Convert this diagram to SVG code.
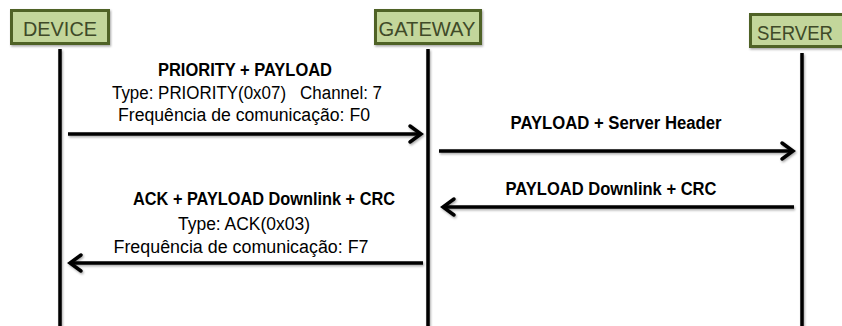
<svg xmlns="http://www.w3.org/2000/svg" width="842" height="326" viewBox="0 0 842 326">
  <style>
    .box { fill: #c3d69b; stroke: #4f6228; stroke-width: 3; }
    .boxtxt { font-family: "Liberation Sans", Arial, sans-serif; font-size: 21px; fill: #3f4a28; text-anchor: middle; }
    .life { stroke: #000; stroke-width: 3.5; fill: none; }
    .msg { stroke: #000; stroke-width: 3.5; fill: none; marker-end: url(#arr); }
    .lbl { font-family: "Liberation Sans", Arial, sans-serif; font-size: 18px; fill: #000; text-anchor: middle; }
    .lblb { font-family: "Liberation Sans", Arial, sans-serif; font-size: 18px; font-weight: bold; fill: #000; text-anchor: middle; }
  </style>
  <defs>
    <filter id="soft" x="-5%" y="-50%" width="110%" height="200%">
      <feDropShadow dx="1" dy="1.5" stdDeviation="1.2" flood-color="#000" flood-opacity="0.35"/>
    </filter>
    <marker id="arr" markerUnits="userSpaceOnUse" markerWidth="20" markerHeight="24" viewBox="-16 -12 20 24" refX="0" refY="0" orient="auto">
      <path d="M-11,-8 L0,0 L-11,8" fill="none" stroke="#000" stroke-width="3.5" stroke-linecap="round"/>
    </marker>
  </defs>

  <rect width="842" height="326" fill="#fff"/>

  <!-- participants -->
  <g id="device">
    <rect class="box" x="11.5" y="10.5" width="97" height="33" filter="url(#soft)"/>
    <text class="boxtxt" x="60" y="36" textLength="74" lengthAdjust="spacingAndGlyphs">DEVICE</text>
  </g>
  <g id="gateway">
    <rect class="box" x="375.5" y="10.5" width="105" height="33" filter="url(#soft)"/>
    <text class="boxtxt" x="427" y="36" textLength="97" lengthAdjust="spacingAndGlyphs">GATEWAY</text>
  </g>
  <g id="server">
    <rect class="box" x="750.5" y="14.5" width="100" height="32" filter="url(#soft)"/>
    <text class="boxtxt" x="795" y="40" textLength="76" lengthAdjust="spacingAndGlyphs">SERVER</text>
  </g>

  <!-- lifelines and messages -->
  <g id="connectors" filter="url(#soft)">
    <line class="life" x1="60" y1="49" x2="60" y2="326"/>
    <line class="life" x1="428" y1="49" x2="428" y2="326"/>
    <line class="life" x1="802" y1="53" x2="802" y2="326"/>

    <line class="msg" x1="68" y1="134" x2="421" y2="134"/>
    <line class="msg" x1="439" y1="151" x2="793" y2="151"/>
    <line class="msg" x1="794" y1="207" x2="443" y2="207"/>
    <line class="msg" x1="423" y1="263" x2="70" y2="263"/>
  </g>

  <!-- message labels -->
  <g id="msg-priority">
    <text class="lblb" x="245" y="76" textLength="174" lengthAdjust="spacingAndGlyphs">PRIORITY + PAYLOAD</text>
    <text class="lbl" x="247" y="99" textLength="270" lengthAdjust="spacingAndGlyphs" xml:space="preserve">Type: PRIORITY(0x07)   Channel: 7</text>
    <text class="lbl" x="244" y="121" textLength="252" lengthAdjust="spacingAndGlyphs">Frequência de comunicação: F0</text>
  </g>
  <g id="msg-server-header">
    <text class="lblb" x="616" y="129" textLength="211" lengthAdjust="spacingAndGlyphs">PAYLOAD + Server Header</text>
  </g>
  <g id="msg-downlink">
    <text class="lblb" x="611" y="195" textLength="211" lengthAdjust="spacingAndGlyphs">PAYLOAD Downlink + CRC</text>
  </g>
  <g id="msg-ack">
    <text class="lblb" x="264" y="205" textLength="262" lengthAdjust="spacingAndGlyphs">ACK + PAYLOAD Downlink + CRC</text>
    <text class="lbl" x="244" y="230" textLength="132" lengthAdjust="spacingAndGlyphs">Type: ACK(0x03)</text>
    <text class="lbl" x="241" y="253" textLength="255" lengthAdjust="spacingAndGlyphs">Frequência de comunicação: F7</text>
  </g>
</svg>
